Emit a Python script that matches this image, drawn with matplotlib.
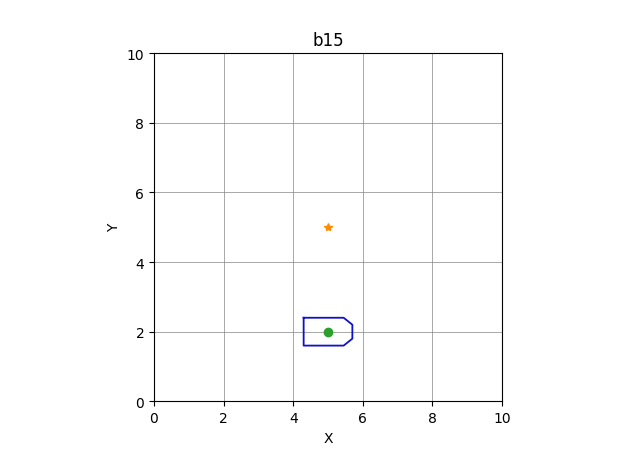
import numpy as np
import matplotlib
matplotlib.use("Agg")
import matplotlib.pyplot as plt

title = "b15"
boat_x = [4.3, 5.45, 5.7, 5.7, 5.45, 4.3, 4.3]
boat_y = [2.4, 2.4, 2.2, 1.8, 1.6, 1.6, 2.4]
agent = (5.0, 2.0)
goal = (5.0, 5.0)

fig, ax = plt.subplots(figsize=(6.4, 4.52), dpi=100)
ax.plot(boat_x, boat_y, color="#1010c8", linewidth=1.3)
ax.plot(agent[0], agent[1], "o", color="tab:green", markersize=6)
ax.plot(goal[0], goal[1], "*", color="darkorange", markersize=6)
ax.set_xlim(0, 10)
ax.set_ylim(0, 10)
ax.set_aspect("equal")
ax.grid(True, color="gray", linewidth=0.6, alpha=0.8)
ax.set_xlabel("X")
ax.set_ylabel("Y")
ax.set_title(title)
fig.savefig("out.png")
